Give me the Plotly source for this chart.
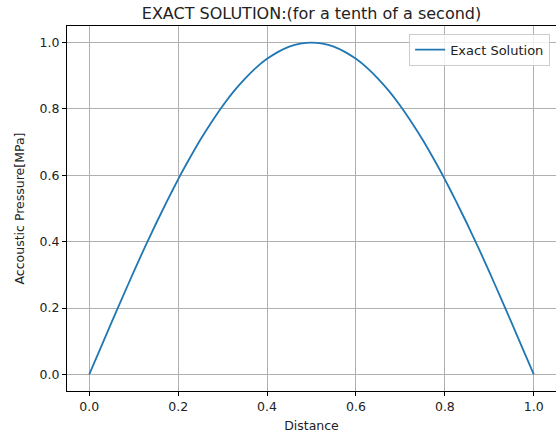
import plotly.graph_objects as go

distance = [0.0, 0.025, 0.05, 0.075, 0.1, 0.125, 0.15, 0.175, 0.2, 0.225, 0.25,
            0.275, 0.3, 0.325, 0.35, 0.375, 0.4, 0.425, 0.45, 0.475, 0.5,
            0.525, 0.55, 0.575, 0.6, 0.625, 0.65, 0.675, 0.7, 0.725, 0.75,
            0.775, 0.8, 0.825, 0.85, 0.875, 0.9, 0.925, 0.95, 0.975, 1.0]
pressure = [0.0, 0.078, 0.156, 0.233, 0.309, 0.383, 0.454, 0.522, 0.588, 0.649, 0.707,
            0.760, 0.809, 0.853, 0.891, 0.924, 0.951, 0.972, 0.988, 0.997, 1.0,
            0.997, 0.988, 0.972, 0.951, 0.924, 0.891, 0.853, 0.809, 0.760, 0.707,
            0.649, 0.588, 0.522, 0.454, 0.383, 0.309, 0.233, 0.156, 0.078, 0.0]
tick_vals = [0.0, 0.2, 0.4, 0.6, 0.8, 1.0]
tick_text = ["0.0", "0.2", "0.4", "0.6", "0.8", "1.0"]

fig = go.Figure()
fig.add_trace(go.Scatter(x=distance, y=pressure, mode="lines", name="Exact Solution",
                         line=dict(color="#1f77b4", width=1.8, shape="spline", smoothing=0.5)))

font = "DejaVu Sans, Arial, sans-serif"
axis_common = dict(showgrid=True, gridcolor="#b0b0b0", gridwidth=0.8,
                   showline=True, linecolor="black", linewidth=1, mirror=True,
                   ticks="outside", ticklen=4, tickcolor="black", tickwidth=1,
                   zeroline=False, tickfont=dict(size=12.5, color="#222"),
                   tickvals=tick_vals, ticktext=tick_text, automargin=False)

fig.update_layout(
    width=556, height=438,
    margin=dict(l=67, r=0, t=26, b=47),
    paper_bgcolor="white", plot_bgcolor="white",
    font=dict(family=font, color="#222"),
    title=dict(text="EXACT SOLUTION:(for a tenth of a second)", xref="paper", x=0.5, xanchor="center",
               yref="container", y=0.970, yanchor="middle", font=dict(size=16, color="#222")),
    xaxis=dict(range=[-0.05, 1.05], title=dict(text="Distance", font=dict(size=12.5), standoff=8),
               **axis_common),
    yaxis=dict(range=[-0.05, 1.05], title=dict(text="Accoustic Pressure[MPa]", font=dict(size=12.5), standoff=12),
               **axis_common),
    showlegend=True,
    legend=dict(x=0.988, y=0.979, xanchor="right", yanchor="top",
                bgcolor="rgba(255,255,255,0.8)", bordercolor="#cccccc", borderwidth=1,
                font=dict(size=13, color="#222")),
)

fig.write_html("out.html", config={"displayModeBar": False},
               post_script="document.body.style.margin='0';document.body.style.padding='0';"
                           "document.documentElement.style.overflow='hidden';")
